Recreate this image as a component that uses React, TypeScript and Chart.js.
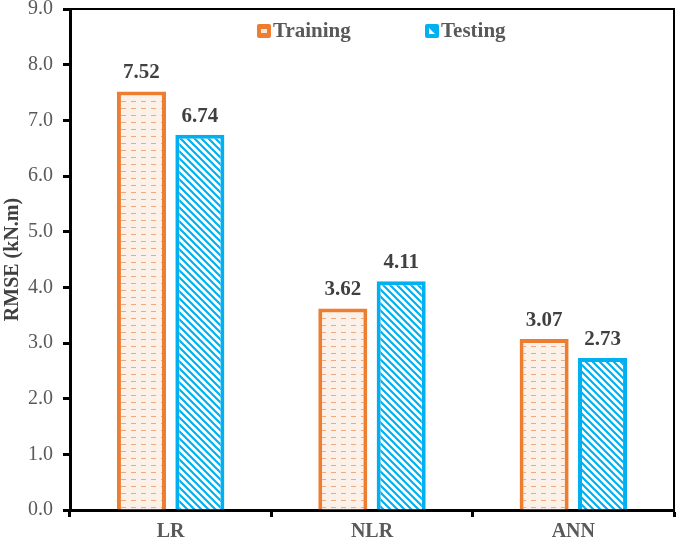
import React, { useEffect, useRef } from "react";
import { Chart, registerables } from "chart.js";

Chart.register(...registerables);

const categories = ["LR", "NLR", "ANN"];
const trainingValues = [7.52, 3.62, 3.07];
const testingValues = [6.74, 4.11, 2.73];
const seriesNames = ["Training", "Testing"];
const yTicks = [0, 1, 2, 3, 4, 5, 6, 7, 8, 9];

const ORANGE = "#ED7D31";
const BLUE = "#00B0F0";
const SERIF = "'Liberation Serif', 'Times New Roman', serif";

function makeTrainingPattern(ctx: CanvasRenderingContext2D) {
  const c = document.createElement("canvas");
  c.width = 10;
  c.height = 7;
  const g = c.getContext("2d")!;
  g.fillStyle = "#FCF1E8";
  g.fillRect(0, 0, 10, 7);
  g.strokeStyle = "#F2A877";
  g.lineWidth = 1;
  g.beginPath();
  g.moveTo(1, 3.5);
  g.lineTo(6, 3.5);
  g.stroke();
  return ctx.createPattern(c, "repeat")!;
}

function makeTestingPattern(ctx: CanvasRenderingContext2D) {
  const s = 7;
  const c = document.createElement("canvas");
  c.width = s;
  c.height = s;
  const g = c.getContext("2d")!;
  g.fillStyle = "#FFFFFF";
  g.fillRect(0, 0, s, s);
  g.strokeStyle = BLUE;
  g.lineWidth = 2.2;
  g.beginPath();
  g.moveTo(-1, -1);
  g.lineTo(s + 1, s + 1);
  g.moveTo(-1 - s, -1);
  g.lineTo(1, s + 1);
  g.moveTo(s - 1, -1);
  g.lineTo(2 * s + 1, s + 1);
  g.stroke();
  return ctx.createPattern(c, "repeat")!;
}

function roundRect(ctx: CanvasRenderingContext2D, x: number, y: number, w: number, h: number, r: number) {
  ctx.beginPath();
  ctx.moveTo(x + r, y);
  ctx.lineTo(x + w - r, y);
  ctx.quadraticCurveTo(x + w, y, x + w, y + r);
  ctx.lineTo(x + w, y + h - r);
  ctx.quadraticCurveTo(x + w, y + h, x + w - r, y + h);
  ctx.lineTo(x + r, y + h);
  ctx.quadraticCurveTo(x, y + h, x, y + h - r);
  ctx.lineTo(x, y + r);
  ctx.quadraticCurveTo(x, y, x + r, y);
  ctx.closePath();
}

const framePlugin = {
  id: "frame",
  afterDraw(chart: any) {
    const { ctx, chartArea } = chart;
    ctx.save();
    ctx.strokeStyle = "#000";
    ctx.lineWidth = 2;
    ctx.beginPath();
    ctx.moveTo(chartArea.left, chartArea.top);
    ctx.lineTo(chartArea.right, chartArea.top);
    ctx.lineTo(chartArea.right, chartArea.bottom);
    ctx.stroke();
    ctx.restore();
  },
};

const labelsPlugin = {
  id: "valueLabels",
  afterDatasetsDraw(chart: any) {
    const { ctx } = chart;
    ctx.save();
    ctx.font = `bold 21px ${SERIF}`;
    ctx.fillStyle = "#404040";
    ctx.textAlign = "center";
    ctx.textBaseline = "alphabetic";
    chart.data.datasets.forEach((ds: any, i: number) => {
      const meta = chart.getDatasetMeta(i);
      meta.data.forEach((bar: any, j: number) => {
        ctx.fillText(Number(ds.data[j]).toFixed(2), bar.x, bar.y - 13);
      });
    });
    ctx.restore();
  },
};

const legendPlugin = {
  id: "customLegend",
  afterDraw(chart: any) {
    const { ctx } = chart;
    ctx.save();
    ctx.font = `bold 21px ${SERIF}`;
    ctx.textBaseline = "middle";
    ctx.textAlign = "left";
    const y = 31;
    // Training
    const x1 = 257;
    ctx.fillStyle = ORANGE;
    roundRect(ctx, x1, y - 7, 14, 14, 2);
    ctx.fill();
    ctx.fillStyle = "#FCE4D2";
    ctx.fillRect(x1 + 4, y - 2, 6, 4);
    ctx.fillStyle = "#595959";
    ctx.fillText(seriesNames[0], x1 + 16, y + 1);
    // Testing
    const x2 = 425;
    ctx.fillStyle = BLUE;
    roundRect(ctx, x2, y - 7, 14, 14, 2);
    ctx.fill();
    ctx.fillStyle = "#FFFFFF";
    ctx.beginPath();
    ctx.moveTo(x2 + 4, y - 3);
    ctx.lineTo(x2 + 10, y + 3);
    ctx.lineTo(x2 + 4, y + 3);
    ctx.closePath();
    ctx.fill();
    ctx.fillStyle = "#595959";
    ctx.fillText(seriesNames[1], x2 + 16, y + 1);
    ctx.restore();
  },
};

export default function App() {
  const ref = useRef<HTMLCanvasElement>(null);
  useEffect(() => {
    const canvas = ref.current!;
    const ctx = canvas.getContext("2d")!;
    const chart = new Chart(ctx, {
      type: "bar",
      data: {
        labels: categories,
        datasets: [
          {
            label: seriesNames[0],
            data: trainingValues,
            backgroundColor: makeTrainingPattern(ctx) as any,
            borderColor: ORANGE,
            borderWidth: 4,
            categoryPercentage: 0.58,
            barPercentage: 0.84,
          },
          {
            label: seriesNames[1],
            data: testingValues,
            backgroundColor: makeTestingPattern(ctx) as any,
            borderColor: BLUE,
            borderWidth: 4,
            categoryPercentage: 0.58,
            barPercentage: 0.84,
          },
        ],
      },
      options: {
        responsive: false,
        animation: false,
        layout: { padding: { top: 9, right: 11, left: 0, bottom: 0 } },
        plugins: {
          legend: { display: false },
          tooltip: { enabled: false },
        },
        scales: {
          x: {
            grid: {
              display: true,
              drawOnChartArea: false,
              drawTicks: true,
              tickLength: 7,
              tickColor: "#000",
              tickWidth: 3,
              offset: true,
            },
            border: { display: true, color: "#000", width: 3 },
            ticks: {
              color: "#595959",
              font: { family: SERIF, size: 20, weight: "bold" },
              padding: 3,
            },
            afterFit(scale: any) {
              scale.height = 32;
              scale.paddingLeft = 0;
              scale.paddingRight = 0;
            },
          },
          y: {
            min: 0,
            max: 9,
            afterBuildTicks(scale: any) {
              scale.ticks = yTicks.map((v) => ({ value: v }));
            },
            grid: {
              display: true,
              drawOnChartArea: false,
              drawTicks: true,
              tickLength: 7,
              tickColor: "#000",
              tickWidth: 3,
            },
            border: { display: true, color: "#000", width: 3 },
            ticks: {
              color: "#595959",
              font: { family: SERIF, size: 20 },
              padding: 10,
              callback: (v: any) => Number(v).toFixed(1),
            },
            title: {
              display: true,
              text: "RMSE (kN.m)",
              color: "#404040",
              font: { family: SERIF, size: 20, weight: "bold" },
              padding: { top: 1, bottom: 4 },
            },
            afterFit(scale: any) {
              scale.width = 70;
              scale.paddingTop = 0;
              scale.paddingBottom = 0;
            },
          },
        },
      },
      plugins: [labelsPlugin, framePlugin, legendPlugin],
    });
    return () => chart.destroy();
  }, []);
  return (
    <div style={{ position: "absolute", left: 0, top: 0, width: 685, height: 542, background: "#fff" }}>
      <canvas ref={ref} width={685} height={542} />
    </div>
  );
}
